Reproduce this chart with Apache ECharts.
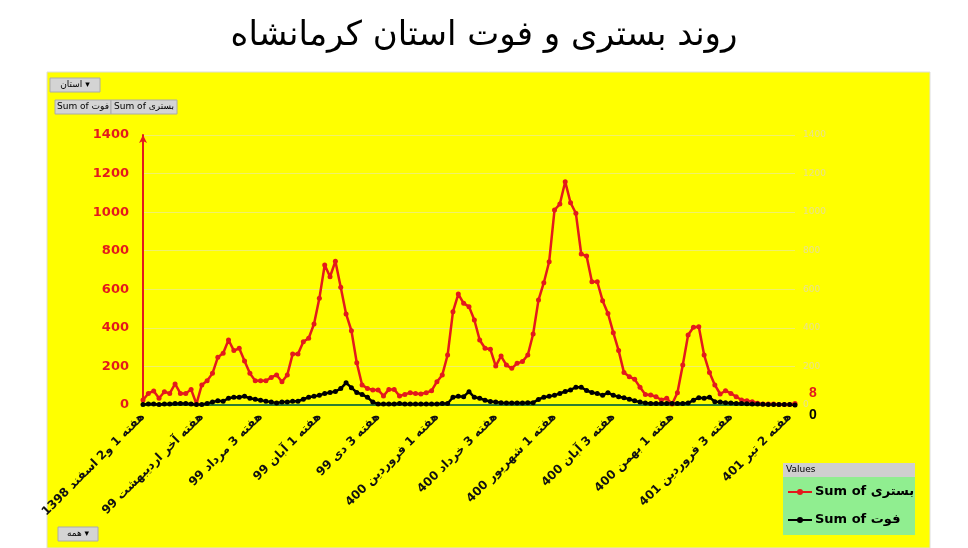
<!DOCTYPE html>
<html lang="fa">
<head>
<meta charset="UTF-8">
<title>روند بستری و فوت استان کرمانشاه</title>
<script src="https://cdn.jsdelivr.net/npm/echarts@6/dist/echarts.min.js"></script>
<style>body{margin:0;background:#fff}</style>
</head>
<body>
<div id="main" style="width:968px;height:548px"></div>
<script>
// بستری (hospitalised) per week
var hospital = [26,60,73,35,69,60,109,60,60,81, 5,104,126,164,247,268,337,282,294,228,
  164,126,126,126,143,156,121,156,264,264, 328,346,420,553,726,665,746,610,472,385,
  219,104,86,78,78,47,81,81,47,55, 64,60,57,64,74,121,156,259,484,575, 527,510,
  441,337,294,289,202,254,207,190,216,225, 259,368,544,634,743,1011,1042,1158,1049,994,
  783,772,639,639,541,475,375,282,168,147, 133,92,55,52,43,26,35,5,64,207,
  363,403,406,259,168,104,57,74,60,43, 26,22,17,9,5,5,5,3,3,3,8];
// فوت (deaths) per week
var deaths = [3,5,5,3,5,5,8,8,8,5, 3,3,8,15,22,20,35,40,40,45, 35,30,25,20,15,10,15,15,20,20,
  30,40,45,50,60,65,70,85,115,90, 65,55,40,15,5,5,5,5,8,5, 5,5,5,5,5,5,8,8,40,45, 43,69,
  40,35,25,18,15,12,10,10,10,10, 12,12,29,40,45,50,60,70,78,92, 92,75,65,60,50,64,50,43,38,30,
  22,15,10,8,8,8,8,8,8,8, 10,25,38,35,40,17,15,12,10,8, 8,6,5,5,4,3,3,3,3,2,0];
var tickLabels = ["هفته 1 و2 اسفند 1398","هفته آخر اردیبهشت 99","هفته 3 مرداد 99","هفته 1 آبان 99",
  "هفته 3 دی 99","هفته 1 فروردین 400","هفته 3 خرداد 400","هفته 1 شهریور 400","هفته 3 آبان 400",
  "هفته 1 بهمن 400","هفته 3 فروردین 401","هفته 2 تیر 401"];
var tickEvery = 11;

var categories = hospital.map(function (v, i) {
  return i % tickEvery === 0 ? (tickLabels[i / tickEvery] || "") : "w" + i;
});
var FONT = "DejaVu Sans";
var chart = echarts.init(document.getElementById("main"));

function button(x, y, w, text) {
  return [
    {type: "rect", shape: {x: x, y: y, width: w, height: 14}, style: {fill: "#d4d4d4", stroke: "#aaa"}},
    {type: "text", x: x + w / 2, y: y + 7, style: {text: text, fill: "#000", font: "9px " + FONT, align: "center", verticalAlign: "middle"}}
  ];
}
function plain(v) { return String(v); }

chart.setOption({
  backgroundColor: "#fff",
  title: {text: "روند بستری و فوت استان کرمانشاه", left: "center", top: 14,
    textStyle: {fontFamily: FONT, fontWeight: "normal", fontSize: 34, color: "#000"}},
  grid: {left: 143, right: 173, top: 135, bottom: 143},
  graphic: [
    {type: "rect", z: -10, shape: {x: 47, y: 72, width: 883, height: 476}, style: {fill: "#ffff00", stroke: "#ddd"}}
  ].concat(
    button(50, 78, 50, "استان ▾"),
    button(55, 100, 56, "Sum of فوت"),
    button(111, 100, 66, "Sum of بستری"),
    button(58, 527, 40, "همه ▾"),
    [
      {type: "rect", shape: {x: 783, y: 463, width: 132, height: 72}, style: {fill: "#90ee90"}},
      {type: "rect", shape: {x: 783, y: 463, width: 132, height: 14}, style: {fill: "#cfcfcf"}},
      {type: "text", x: 786, y: 470, style: {text: "Values", fill: "#000", font: "9px " + FONT, verticalAlign: "middle"}},
      {type: "line", shape: {x1: 788, y1: 492, x2: 812, y2: 492}, style: {stroke: "#e31a1c", lineWidth: 2}},
      {type: "circle", shape: {cx: 800, cy: 492, r: 3}, style: {fill: "#e31a1c"}},
      {type: "text", x: 815, y: 492, style: {text: "Sum of بستری", fill: "#000", font: "bold 13px " + FONT, verticalAlign: "middle"}},
      {type: "line", shape: {x1: 788, y1: 520, x2: 812, y2: 520}, style: {stroke: "#000", lineWidth: 2}},
      {type: "circle", shape: {cx: 800, cy: 520, r: 3}, style: {fill: "#000"}},
      {type: "text", x: 815, y: 520, style: {text: "Sum of فوت", fill: "#000", font: "bold 13px " + FONT, verticalAlign: "middle"}}
    ]),
  xAxis: {
    type: "category", data: categories, boundaryGap: false,
    axisLine: {lineStyle: {color: "#2e7d32", width: 2}},
    axisTick: {show: false},
    axisLabel: {
      interval: function (i) { return i % tickEvery === 0; },
      rotate: 45, color: "#111", fontFamily: FONT, fontWeight: "bold", fontSize: 12, margin: 10
    }
  },
  yAxis: [
    {type: "value", min: 0, max: 1400, interval: 200,
      axisLine: {show: true, symbol: ["none", "arrow"], symbolSize: [6, 8], lineStyle: {color: "#e31a1c", width: 2}},
      axisLabel: {color: "#e31a1c", fontWeight: "bold", fontSize: 13, fontFamily: FONT, margin: 14, formatter: plain},
      splitLine: {lineStyle: {color: "#f0f06a"}}},
    {type: "value", min: 0, max: 1400, interval: 200, position: "right",
      axisLine: {show: false}, splitLine: {show: false},
      axisLabel: {color: "#e8e090", fontSize: 9, fontFamily: FONT, formatter: plain}}
  ],
  series: [
    {name: "Sum of بستری", type: "line", data: hospital, symbol: "circle", symbolSize: 5, showAllSymbol: true,
      itemStyle: {color: "#e31a1c"}, lineStyle: {width: 2.5, color: "#e31a1c"},
      endLabel: {show: true, color: "#e31a1c", fontWeight: "bold", fontSize: 14, offset: [6, -10]}},
    {name: "Sum of فوت", type: "line", data: deaths, symbol: "circle", symbolSize: 5, showAllSymbol: true,
      itemStyle: {color: "#000"}, lineStyle: {width: 2.5, color: "#000"},
      endLabel: {show: true, color: "#000", fontWeight: "bold", fontSize: 14, offset: [6, 10]}}
  ]
});
</script>
</body>
</html>
